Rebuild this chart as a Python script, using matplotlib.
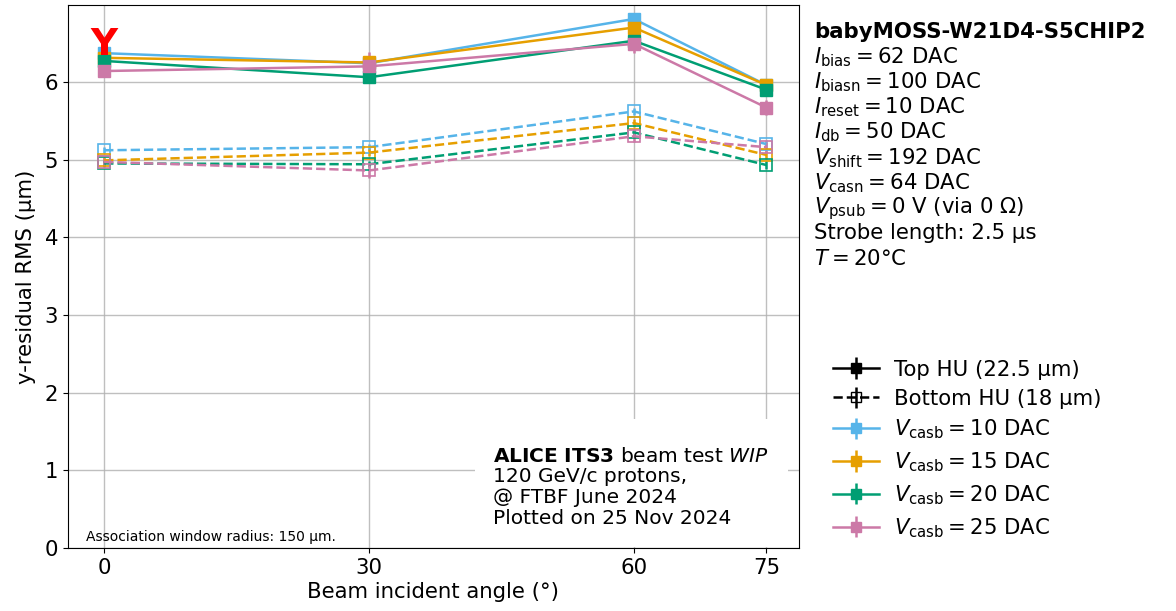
import matplotlib
matplotlib.use("Agg")
import matplotlib.pyplot as plt
from matplotlib.patches import Rectangle

angles = [0, 30, 60, 75]
vcasb = [10, 15, 20, 25]
colors = ["#56B4E9", "#E69F00", "#009E73", "#CC79A7"]

top_rms = {
    10: [6.37, 6.24, 6.81, 5.96],
    15: [6.31, 6.25, 6.70, 5.96],
    20: [6.27, 6.06, 6.53, 5.90],
    25: [6.14, 6.20, 6.49, 5.67],
}
top_err = {
    10: [0.05, 0.05, 0.05, 0.05],
    15: [0.05, 0.05, 0.05, 0.06],
    20: [0.05, 0.06, 0.06, 0.06],
    25: [0.07, 0.18, 0.12, 0.10],
}
bot_rms = {
    10: [5.12, 5.16, 5.62, 5.20],
    15: [4.99, 5.09, 5.47, 5.06],
    20: [4.95, 4.94, 5.35, 4.93],
    25: [4.97, 4.86, 5.30, 5.16],
}
bot_err = {
    10: [0.04, 0.04, 0.05, 0.05],
    15: [0.04, 0.04, 0.05, 0.05],
    20: [0.04, 0.04, 0.05, 0.05],
    25: [0.05, 0.10, 0.08, 0.07],
}

info_lines = [
    r"$I_{\mathrm{bias}} = 62$ DAC",
    r"$I_{\mathrm{biasn}} = 100$ DAC",
    r"$I_{\mathrm{reset}} = 10$ DAC",
    r"$I_{\mathrm{db}} = 50$ DAC",
    r"$V_{\mathrm{shift}} = 192$ DAC",
    r"$V_{\mathrm{casn}} = 64$ DAC",
    r"$V_{\mathrm{psub}} = 0$ V (via 0 $\Omega$)",
    "Strobe length: 2.5 µs",
    r"$T = 20$°C",
]

W, H = 1176, 611
fig = plt.figure(figsize=(W / 100, H / 100), dpi=100)
ax = fig.add_axes([68 / W, 1 - 548 / H, (799 - 68) / W, (548 - 5) / H])

fs = 15.3
fs_box = 14.5
for v, c in zip(vcasb, colors):
    ax.errorbar(angles, top_rms[v], yerr=top_err[v], color=c, marker="s",
                ms=8.5, lw=1.8, elinewidth=1.8, capsize=0, zorder=3)
    ax.errorbar(angles, bot_rms[v], yerr=bot_err[v], color=c, marker="s",
                ms=8.5, mfc="none", mew=1.2, lw=1.8, ls="--", elinewidth=1.8,
                capsize=0, zorder=3)

ax.text(0, 6.48, "Y", color="red", fontsize=27, fontweight="semibold",
        ha="center", va="center", zorder=5)

ax.set_xlim(-4.1, 78.7)
ax.set_ylim(0, 6.99)
ax.set_xticks(angles)
ax.set_yticks(range(0, 7))
ax.tick_params(labelsize=fs)
ax.grid(True, color="#b0b0b0", lw=1.0, alpha=0.8)
ax.set_axisbelow(True)
ax.set_xlabel("Beam incident angle (°)", fontsize=fs, labelpad=3)
ax.set_ylabel("y-residual RMS (µm)", fontsize=fs, labelpad=6)

ax.text(0.025, 0.008, "Association window radius: 150 µm.", transform=ax.transAxes,
        fontsize=10, ha="left", va="bottom")

ax.add_patch(Rectangle(((475 - 68) / 731, 0.002), (788 - 475) / 731, (548 - 420) / 543,
                       transform=ax.transAxes, facecolor="white", edgecolor="none",
                       zorder=1.5))
ax.text((493 - 68) / 731, (548 - 528) / 543,
        r"$\bf{ALICE\ ITS3}$ beam test $\it{WIP}$" + "\n120 GeV/c protons,\n@ FTBF June 2024\nPlotted on 25 Nov 2024",
        transform=ax.transAxes, fontsize=fs_box, ha="left", va="bottom",
        linespacing=1.12, zorder=4)

# right-hand info text
fig.text(814 / W, 1 - 32 / H, "babyMOSS-W21D4-S5CHIP2", fontsize=fs,
         fontweight="bold", ha="left", va="center")
for i, line in enumerate(info_lines):
    fig.text(814 / W, 1 - (57 + i * 25.2) / H, line, fontsize=fs, ha="left", va="center")

labels = ["Top HU (22.5 µm)", "Bottom HU (18 µm)"]
handle_specs = [("black", "black", "-"), ("black", "none", "--")]
for v, c in zip(vcasb, colors):
    handle_specs.append((c, c, "-"))
    labels.append(r"$V_{\mathrm{casb}} = %d$ DAC" % v)

eb_handles = []
for col, mfc, ls in handle_specs:
    eb = ax.errorbar([], [], yerr=[], color=col, marker="s", ms=7.5,
                     mfc=mfc, ls=ls, lw=1.8, elinewidth=1.8)
    eb_handles.append(eb)

fig.legend(eb_handles, labels, loc="upper left", bbox_to_anchor=(824 / W, 1 - 351 / H),
           frameon=False, fontsize=fs, handlelength=2.2, labelspacing=0.43,
           handletextpad=0.7, borderaxespad=0)

fig.savefig("out.png", dpi=100)
